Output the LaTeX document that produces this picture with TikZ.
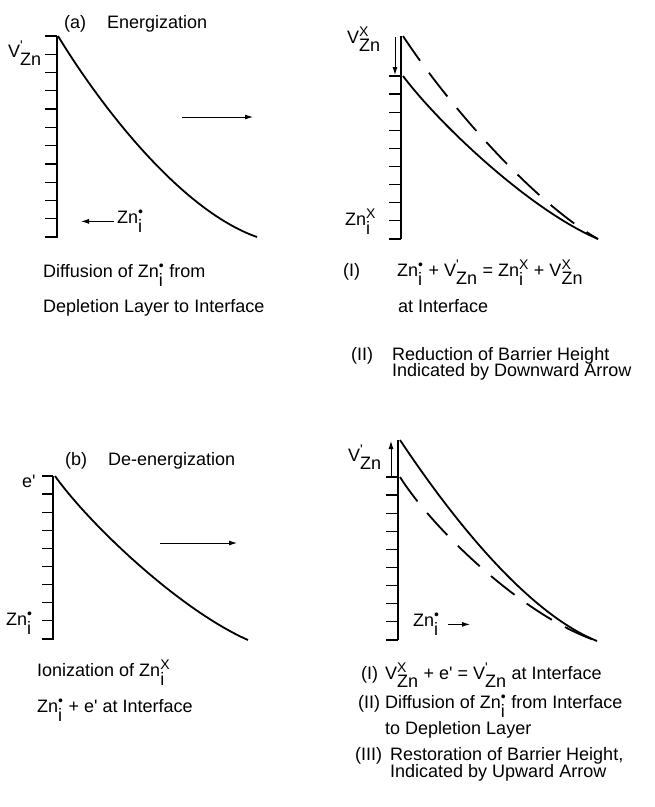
\documentclass[tikz,border=0pt]{standalone}
\usepackage{amsmath}
\usepackage{fontspec}
\setmainfont{Liberation Sans}
\usepackage{tikz}
\usetikzlibrary{arrows.meta}

\DeclareMathSizes{18}{18}{14}{10}
% defect symbol: base, charge (sup), site (sub)
\newcommand\kv[3]{#1\ensuremath{^{\text{#2}}_{\raisebox{-3pt}{\text{#3}}}}}
\newcommand\pr{\textquotesingle}

\tikzset{
  axisline/.style={line width=2.4pt},
  tickmark/.style={line width=1.3pt},
  barrier/.style={line width=1.8pt},
  oldbarrier/.style={barrier,dash pattern=on 30pt off 15pt},
  flow/.style={-{Latex[length=8pt,width=5pt]},line width=0.9pt},
  lbl/.style={anchor=base west,inner sep=0pt}
}

\begin{document}
\begin{tikzpicture}[x=1pt,y=-1pt,font=\fontsize{18}{22}\selectfont,>=Latex]
  \useasboundingbox (0,0) rectangle (655,807);

  % (a) energization, left
  \node[lbl] (a-title) at (64,28) {(a)\hspace{21pt}Energization};
  \draw[axisline] (57,36) -- (57,238);
  \foreach \k in {0,...,11}
    \draw[tickmark] (45,{36+\k*18.27}) -- (57,{36+\k*18.27});
  \draw[barrier] (58,36) .. controls (100,105) and (180,210) .. (257,237);
  \node[lbl] (a-vzn) at (8,57) {\kv{V}{\pr}{Zn}};
  \node[lbl] (a-zn) at (117,223) {\kv{Zn}{\textbullet}{i}};
  \coordinate (a-tip) at (81,216);
  \draw[flow] ([xshift=-3pt]a-zn.west) -- (a-zn.west -| a-tip);
  \coordinate (a-from) at (182,117);
  \coordinate (a-to) at (253,117);
  \draw[flow] (a-from) -- (a-to);
  \node[lbl] (a-cap1) at (43,277) {Diffusion of \kv{Zn}{\textbullet}{i} from};
  \node[lbl] (a-cap2) at (43,312) {Depletion Layer to Interface};

  % (a) energization, right
  \draw[axisline] (401,36) -- (401,239);
  \foreach \k in {0,...,9}
    \draw[tickmark] (389,{76+\k*18.1}) -- (401,{76+\k*18.1});
  \draw[oldbarrier] (403,36) .. controls (445,100) and (530,200) .. (598,239);
  \draw[barrier] (403,76) .. controls (440,125) and (530,210) .. (598,239);
  \coordinate (ar-top) at (395,37);
  \coordinate (ar-bot) at (395,75);
  \draw[flow] (ar-top) -- (ar-bot);
  \node[lbl] (ar-vzn) at (347,43) {\kv{V}{X}{Zn}};
  \node[lbl] (ar-zn) at (345,225) {\kv{Zn}{X}{i}};
  \node[lbl] (ar-n1) at (343,276) {(I)};
  \node[lbl] (ar-eq) at (397,276)
    {\kv{Zn}{\textbullet}{i} + \kv{V}{\pr}{Zn} = \kv{Zn}{X}{i} + \kv{V}{X}{Zn}};
  \node[lbl] (ar-at) at (398,312) {at Interface};
  \node[lbl] (ar-n2) at (351,360) {(II)};
  \node[lbl] (ar-red) at (392,360) {Reduction of Barrier Height};
  \node[lbl] (ar-ind) at (392,376) {Indicated by Downward Arrow};

  % (b) de-energization, left
  \node[lbl] (b-title) at (65,465) {(b)\hspace{21pt}De-energization};
  \draw[axisline] (53,476) -- (53,640);
  \foreach \k in {0,...,9}
    \draw[tickmark] (42,{476+\k*18.1}) -- (53,{476+\k*18.1});
  \draw[barrier] (55,476) .. controls (90,525) and (180,610) .. (248,640);
  \node[lbl] (b-e) at (22,487) {e\pr};
  \node[lbl] (b-zn) at (6,625) {\kv{Zn}{\textbullet}{i}};
  \coordinate (b-from) at (160,543);
  \coordinate (b-to) at (237,543);
  \draw[flow] (b-from) -- (b-to);
  \node[lbl] (b-cap1) at (37,676) {Ionization of \kv{Zn}{X}{i}};
  \node[lbl] (b-cap2) at (37,712) {\kv{Zn}{\textbullet}{i} + e\pr\ at Interface};

  % (b) de-energization, right
  \draw[axisline] (398,440) -- (398,640);
  \foreach \k in {0,...,9}
    \draw[tickmark] (386,{477+\k*18.1}) -- (398,{477+\k*18.1});
  \draw[barrier] (400,440) .. controls (440,500) and (520,610) .. (597,641);
  \draw[oldbarrier] (400,477) .. controls (430,525) and (520,615) .. (597,641);
  \coordinate (br-bot) at (391,477);
  \coordinate (br-top) at (391,441);
  \draw[flow] (br-bot) -- (br-top);
  \node[lbl] (br-vzn) at (348,461) {\kv{V}{\pr}{Zn}};
  \node[lbl] (br-zn) at (413,626) {\kv{Zn}{\textbullet}{i}};
  \coordinate (br-tip) at (470,623);
  \draw[flow] ([xshift=8pt]br-zn.east) -- (br-zn.east -| br-tip);
  \node[lbl] (br-n1) at (361,679) {(I)};
  \node[lbl] (br-eq) at (385,679)
    {\kv{V}{X}{Zn} + e\pr\ = \kv{V}{\pr}{Zn} at Interface};
  \node[lbl] (br-n2) at (358,708) {(II)};
  \node[lbl] (br-dif) at (385,708) {Diffusion of \kv{Zn}{\textbullet}{i} from Interface};
  \node[lbl] (br-dep) at (385,734) {to Depletion Layer};
  \node[lbl] (br-n3) at (355,760) {(III)};
  \node[lbl] (br-res) at (390,760) {Restoration of Barrier Height,};
  \node[lbl] (br-upw) at (390,777) {Indicated by Upward Arrow};
\end{tikzpicture}
\end{document}
